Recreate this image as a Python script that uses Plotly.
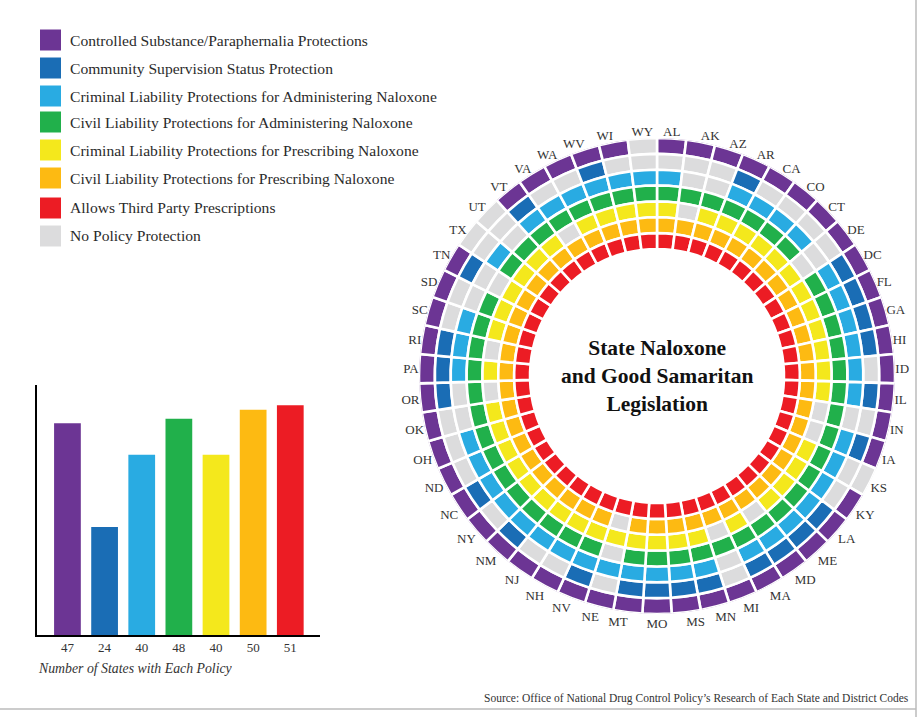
import plotly.graph_objects as go

# ---------------- data ----------------
states = ["AL", "AK", "AZ", "AR", "CA", "CO", "CT", "DE", "DC", "FL", "GA", "HI", "ID",
          "IL", "IN", "IA", "KS", "KY", "LA", "ME", "MD", "MA", "MI", "MN", "MS", "MO",
          "MT", "NE", "NV", "NH", "NJ", "NM", "NY", "NC", "ND", "OH", "OK", "OR", "PA",
          "RI", "SC", "SD", "TN", "TX", "UT", "VT", "VA", "WA", "WV", "WI", "WY"]

policies = ["Controlled Substance/Paraphernalia Protections",
            "Community Supervision Status Protection",
            "Criminal Liability Protections for Administering Naloxone",
            "Civil Liability Protections for Administering Naloxone",
            "Criminal Liability Protections for Prescribing Naloxone",
            "Civil Liability Protections for Prescribing Naloxone",
            "Allows Third Party Prescriptions"]
no_policy_label = "No Policy Protection"

policy_colors = ["#6c3594", "#1a6db5", "#29abe2", "#21b04b", "#f4e81c", "#fdba12", "#ec1c24"]
gray = "#dcdcdd"

# number of states with each policy (bar chart)
counts = [47, 24, 40, 48, 40, 50, 51]

# 1 = state has the protection, 0 = no protection (order follows `states`)
controlled_substance = [1,1,1,1,1,1,1,1,1,1,1,1,1,1,1,1,0,1,1,1,1,1,1,1,1,1,1,1,1,1,1,1,1,1,1,1,1,1,1,1,1,1,1,0,0,1,1,1,1,1,0]
community_supervision = [0,0,0,1,0,0,0,0,1,1,1,1,0,1,0,1,0,0,1,1,1,1,0,1,1,1,1,0,1,0,0,1,0,1,0,0,0,1,1,1,0,0,1,0,0,1,0,0,1,0,0]
criminal_admin = [1,0,0,1,1,1,1,0,1,1,1,1,1,1,0,1,1,1,1,1,1,1,0,1,1,1,1,1,1,1,1,1,1,1,1,1,0,0,1,1,1,0,0,1,0,1,1,1,1,1,1]
civil_admin = [1,1,1,1,1,1,1,0,1,1,1,1,1,1,1,1,1,1,1,1,1,1,1,1,1,1,1,0,1,1,1,1,1,1,1,1,1,1,1,1,1,1,0,1,1,1,1,1,1,1,1]
criminal_prescribe = [1,0,1,1,1,1,1,1,1,1,1,1,1,1,0,0,1,1,1,1,0,1,0,1,1,1,1,1,1,1,1,1,1,1,1,1,1,0,1,0,1,1,1,1,1,1,0,1,1,1,1]
civil_prescribe = [1,1,1,1,1,1,1,1,1,1,1,1,1,1,1,1,1,1,1,1,1,1,1,1,1,1,1,0,1,1,1,1,1,1,1,1,1,1,1,1,1,1,1,1,1,1,1,1,1,1,1]
third_party = [1] * 51

rings = [controlled_substance, community_supervision, criminal_admin, civil_admin,
         criminal_prescribe, civil_prescribe, third_party]

# ---------------- figure ----------------
W, H = 922, 717
serif = "Liberation Serif, Times New Roman, serif"
fig = go.Figure()

# ring chart
n = len(states)
step = 360.0 / n
theta = [(i + 0.5) * step for i in range(n)]
outer_r = 238.0
inner_r = 127.0
thick = (outer_r - inner_r) / len(rings)
for k, flags in enumerate(rings):
    base = outer_r - (k + 1) * thick
    fig.add_trace(go.Barpolar(
        r=[thick] * n, base=[base] * n, theta=theta, width=[step] * n,
        marker=dict(color=[policy_colors[k] if f else gray for f in flags],
                    line=dict(color="white", width=2.6)),
        name=policies[k], showlegend=False, hoverinfo="skip"))

cx, cy = 657, 376
fig.update_layout(polar=dict(
    domain=dict(x=[(cx - outer_r) / W, (cx + outer_r) / W],
                y=[(H - cy - outer_r) / H, (H - cy + outer_r) / H]),
    bgcolor="white",
    radialaxis=dict(visible=False, range=[0, outer_r]),
    angularaxis=dict(rotation=90, direction="clockwise", showline=False, showgrid=False,
                     ticks="", tickmode="array", tickvals=theta, ticktext=states,
                     tickfont=dict(family=serif, size=13, color="#333333")),
))

# bar chart
bx0, bx1 = 37, 320
by0, by1 = 635, 385
xs = list(range(len(counts)))
fig.add_trace(go.Bar(x=xs, y=counts, marker=dict(color=policy_colors, line=dict(width=0)),
                     width=0.72, showlegend=False, hoverinfo="skip",
                     xaxis="x", yaxis="y"))
fig.update_layout(
    xaxis=dict(domain=[bx0 / W, bx1 / W], range=[-0.82, 6.8], showline=True,
               linecolor="black", linewidth=1.5, showgrid=False, zeroline=False,
               tickmode="array", tickvals=xs, ticktext=[str(c) for c in counts], ticks="",
               tickfont=dict(family=serif, size=13, color="#333333"), fixedrange=True),
    yaxis=dict(domain=[(H - by0) / H, (H - by1) / H], range=[0, 55.5], showline=True,
               linecolor="black", linewidth=1.5, showgrid=False, zeroline=False,
               showticklabels=False, ticks="", fixedrange=True),
)

annotations = []
shapes = []
# legend
leg_y = [40, 68, 96, 122, 150, 178, 208, 236]
leg_labels = policies + [no_policy_label]
leg_cols = policy_colors + [gray]
for yy, lab, col in zip(leg_y, leg_labels, leg_cols):
    shapes.append(dict(type="rect", xref="paper", yref="paper",
                       x0=40 / W, x1=61 / W, y0=1 - (yy - 10.5) / H, y1=1 - (yy + 10.5) / H,
                       fillcolor=col, line=dict(width=0)))
    annotations.append(dict(text=lab, xref="paper", yref="paper", x=68 / W, y=1 - yy / H,
                            xanchor="left", yanchor="middle", showarrow=False,
                            font=dict(family=serif, size=15.6, color="#2b2b2b")))

annotations.append(dict(text="<b>State Naloxone<br>and Good Samaritan<br>Legislation</b>",
                        xref="paper", yref="paper", x=cx / W, y=1 - 376 / H,
                        xanchor="center", yanchor="middle", showarrow=False,
                        font=dict(family=serif, size=21.5, color="#111111")))
annotations.append(dict(text="<i>Number of States with Each Policy</i>", xref="paper",
                        yref="paper", x=36 / W, y=1 - 668 / H, xanchor="left",
                        yanchor="middle", showarrow=False,
                        font=dict(family=serif, size=13.8, color="#333333")))
annotations.append(dict(text="Source: Office of National Drug Control Policy\u2019s Research of Each State and District Codes",
                        xref="paper", yref="paper", x=911 / W, y=1 - 698 / H,
                        xanchor="right", yanchor="middle", showarrow=False,
                        font=dict(family=serif, size=11.5, color="#333333")))

# frame
shapes.append(dict(type="line", xref="paper", yref="paper", x0=916 / W, x1=916 / W,
                   y0=0, y1=1, line=dict(color="#bbbbbb", width=1.5)))
shapes.append(dict(type="line", xref="paper", yref="paper", x0=0, x1=916 / W,
                   y0=1 - 709 / H, y1=1 - 709 / H, line=dict(color="#bbbbbb", width=1.5)))

fig.update_layout(width=W, height=H, margin=dict(l=0, r=0, t=0, b=0),
                  paper_bgcolor="white", plot_bgcolor="white",
                  annotations=annotations, shapes=shapes)

fig.write_html("out.html", config={"displayModeBar": False},
               post_script="document.body.style.margin='0';document.body.style.overflow='hidden';")
